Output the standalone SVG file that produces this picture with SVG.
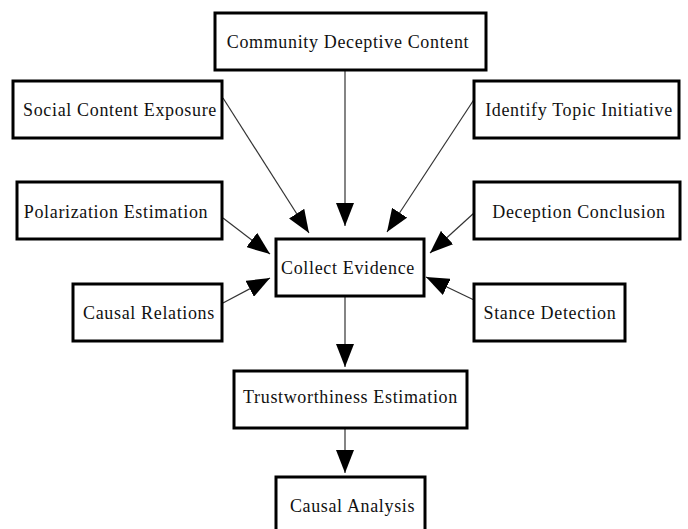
<svg xmlns="http://www.w3.org/2000/svg" width="688" height="529" viewBox="0 0 688 529">
<style>
.box{fill:#fff;stroke:#000;stroke-width:3}
.lbl{font-family:"Liberation Serif","Times New Roman",serif;font-size:18px;letter-spacing:0.65px;fill:#111;text-anchor:middle}
.edge{stroke:#333;stroke-width:1.2;fill:none;marker-end:url(#ah)}
</style>
<defs>
<marker id="ah" markerUnits="userSpaceOnUse" markerWidth="23" markerHeight="18" refX="23" refY="9" orient="auto">
<path d="M0,0 L23,9 L0,18 z" fill="#000"/>
</marker>
</defs>
<rect width="688" height="529" fill="#fff"/>
<g id="connectors">
<line class="edge" x1="345" y1="70" x2="345" y2="226"/>
<line class="edge" x1="223" y1="98" x2="309" y2="233"/>
<line class="edge" x1="475" y1="98" x2="387" y2="232"/>
<line class="edge" x1="223" y1="218" x2="270" y2="254"/>
<line class="edge" x1="223" y1="303" x2="270" y2="278"/>
<line class="edge" x1="474" y1="213" x2="430" y2="253"/>
<line class="edge" x1="474" y1="300" x2="426" y2="277"/>
<line class="edge" x1="345" y1="296" x2="345" y2="367"/>
<line class="edge" x1="345" y1="428" x2="345" y2="473"/>
</g>
<g id="community"><rect class="box" x="215" y="13" width="271" height="57"/><text class="lbl" x="348" y="48">Community Deceptive Content</text></g>
<g id="social"><rect class="box" x="13" y="81" width="209" height="57"/><text class="lbl" x="120" y="116">Social Content Exposure</text></g>
<g id="identify"><rect class="box" x="474" y="81" width="205" height="57"/><text class="lbl" x="579" y="116">Identify Topic Initiative</text></g>
<g id="polarization"><rect class="box" x="17" y="182" width="205" height="57"/><text class="lbl" x="116" y="217.5">Polarization Estimation</text></g>
<g id="deception"><rect class="box" x="474" y="182" width="206" height="57"/><text class="lbl" x="579" y="217.5">Deception Conclusion</text></g>
<g id="collect"><rect class="box" x="276" y="239" width="148" height="57"/><text class="lbl" x="348" y="274">Collect Evidence</text></g>
<g id="causalrel"><rect class="box" x="73" y="284" width="149" height="57"/><text class="lbl" x="149" y="319">Causal Relations</text></g>
<g id="stance"><rect class="box" x="474" y="284" width="151" height="57"/><text class="lbl" x="550" y="319">Stance Detection</text></g>
<g id="trust"><rect class="box" x="234" y="371" width="233" height="57"/><text class="lbl" x="350.5" y="402.5">Trustworthiness Estimation</text></g>
<g id="analysis"><rect class="box" x="276" y="477" width="149" height="57"/><text class="lbl" x="352.5" y="511.5">Causal Analysis</text></g>
</svg>
